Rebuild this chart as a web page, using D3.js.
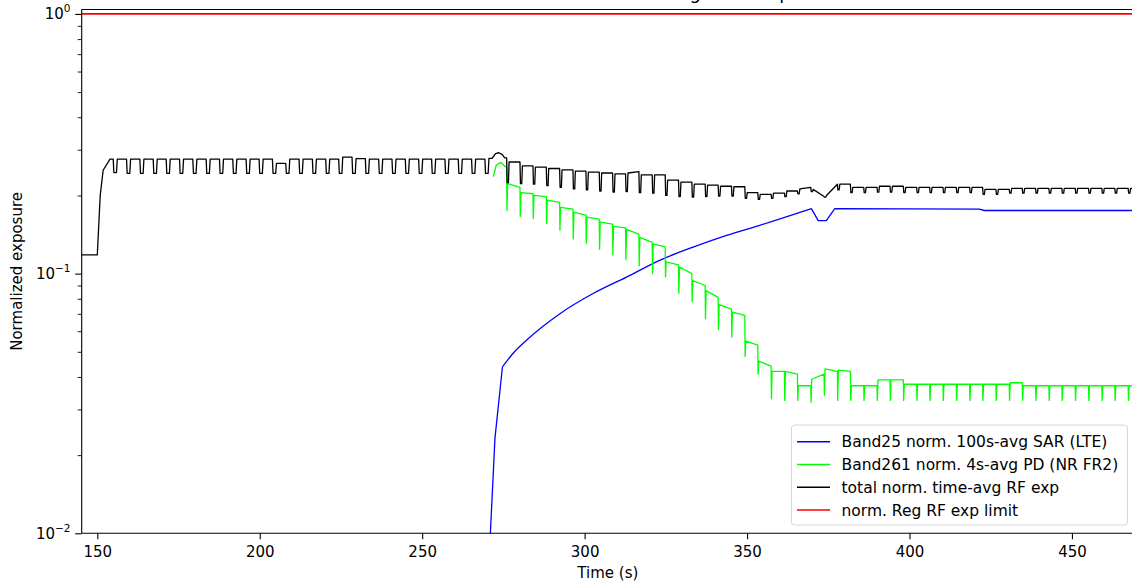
<!DOCTYPE html>
<html><head><meta charset="utf-8">
<script src="https://cdn.jsdelivr.net/npm/d3@7"></script>
<style>
body{margin:0;background:#fff}
svg{display:block}
text{font-family:"DejaVu Sans",sans-serif;fill:#000}
</style>
</head><body>
<svg id="c" width="1132" height="582"></svg>
<script>
// ---------- data ----------
const titleText = "Normalized time-averaged RF exposure";
const xLabel = "Time (s)";
const yLabel = "Normalized exposure";
const xTicks = [150, 200, 250, 300, 350, 400, 450];
const yMajor = [1, 0.1, 0.01];
const yMajorExp = ["0", "\u22121", "\u22122"];
const yMinor = [0.02,0.03,0.04,0.05,0.06,0.07,0.08,0.09,0.2,0.3,0.4,0.5,0.6,0.7,0.8,0.9];
const seriesNames = ["Band25 norm. 100s-avg SAR (LTE)", "Band261 norm. 4s-avg PD (NR FR2)", "total norm. time-avg RF exp", "norm. Reg RF exp limit"];
const seriesColors = ["#0000ff", "#00ff00", "#000000", "#ff0000"];

// regulatory limit
const limitT = [145, 470];
const limitV = [1, 1];

// LTE SAR (blue): steep start, smooth rise, short dip, flat
const blueRampT = [270.9, 272.4, 274.7];
const blueRampV = [0.0095, 0.0232, 0.0437];
const blueRiseT = [274.7, 278.2, 282.1, 292.4, 302.6, 312.9, 323.1, 333.4, 343.7, 353.9, 361.1, 369.8];
const blueRiseV = [0.0437, 0.0497, 0.0554, 0.0701, 0.0838, 0.097, 0.1125, 0.1265, 0.1404, 0.1535, 0.164, 0.178];
const blueTailT = [369.8, 371.9, 374.4, 377.0, 421.5, 423.0, 470];
const blueTailV = [0.178, 0.160, 0.160, 0.178, 0.177, 0.175, 0.175];

// total (black): lead-in, then pulse train A, a peak, then pulse train B
const blackLeadT = [145, 150.0, 150.9, 151.8, 153.9];
const blackLeadV = [0.118, 0.118, 0.20, 0.25, 0.276];
const blackDipTA = [154.9,159.0,163.1,167.2,171.2,175.3,179.4,183.5,187.6,191.7,195.8,199.8,203.9,208.0,212.1,216.2,220.3,224.3,228.4,232.5,236.6,240.7,244.8,248.9,252.9,257.0,261.1,265.2,269.3];
const blackHighA = [0.276,0.276,0.276,0.276,0.276,0.276,0.276,0.276,0.276,0.276,0.276,0.276,0.266,0.276,0.276,0.276,0.276,0.281,0.277,0.276,0.276,0.276,0.276,0.276,0.276,0.276,0.276,0.276,0.278];
const blackLowA = [0.245,0.243,0.243,0.243,0.243,0.243,0.243,0.243,0.243,0.243,0.243,0.243,0.243,0.243,0.243,0.243,0.243,0.243,0.243,0.243,0.243,0.243,0.243,0.243,0.243,0.243,0.243,0.243,0.243];
const blackPeakT = [271.6, 272.6, 273.6, 274.6, 275.4];
const blackPeakV = [0.279, 0.290, 0.292, 0.288, 0.279];

const cycleTB = [276.0,280.1,284.1,288.2,292.3,296.4,300.4,304.5,308.6,312.6,316.7,320.8,324.8,328.9,333.0,337.1,341.1,345.2,349.3,353.3,357.4,361.5,365.5,369.6,373.7,377.8,381.8,385.9,390.0,394.0,398.1,402.2,406.2,410.3,414.4,418.5,422.5,426.6,430.7,434.7,438.8,442.9,446.9,451.0,455.1,459.2,463.2,467.3];
const blackLowB = [0.224,0.222,0.221,0.218,0.215,0.212,0.210,0.208,0.206,0.207,0.205,0.204,0.200,0.198,0.197,0.198,0.199,0.199,0.195,0.193,0.195,0.198,0.203,0.207,0.197,0.210,0.205,0.205,0.206,0.206,0.205,0.205,0.205,0.205,0.205,0.205,0.202,0.202,0.204,0.204,0.204,0.204,0.204,0.204,0.204,0.204,0.204,0.204];
const blackStartB = [0.269,0.260,0.257,0.254,0.251,0.248,0.246,0.244,0.242,0.244,0.240,0.240,0.229,0.225,0.221,0.219,0.217,0.216,0.205,0.202,0.204,0.208,0.212,0.211,0.200,0.221,0.215,0.215,0.217,0.217,0.215,0.215,0.215,0.215,0.215,0.215,0.211,0.211,0.213,0.213,0.213,0.213,0.213,0.213,0.213,0.213,0.213,0.213];
const blackEndB = [0.269,0.260,0.257,0.254,0.251,0.248,0.246,0.244,0.242,0.247,0.240,0.240,0.229,0.225,0.221,0.219,0.217,0.216,0.205,0.202,0.204,0.208,0.215,0.198,0.221,0.221,0.215,0.215,0.217,0.217,0.215,0.215,0.215,0.215,0.215,0.215,0.211,0.211,0.213,0.213,0.213,0.213,0.213,0.213,0.213,0.213,0.213,0.213];

// NR FR2 PD (green)
const greenLeadT = [271.9, 272.8, 274.3, 275.6];
const greenLeadV = [0.236, 0.262, 0.268, 0.258];
const greenLowB = [0.175,0.166,0.163,0.156,0.147,0.136,0.131,0.124,0.118,0.113,0.107,0.100,0.097,0.084,0.078,0.067,0.061,0.057,0.048,0.041,0.033,0.0325,0.0325,0.032,0.034,0.0325,0.0325,0.0325,0.0325,0.0325,0.0325,0.0325,0.0325,0.0325,0.0325,0.0325,0.0325,0.0325,0.0325,0.0325,0.0325,0.0325,0.0325,0.0325,0.0325,0.0325,0.0325,0.0325];
const greenStartB = [0.222,0.205,0.200,0.192,0.180,0.172,0.165,0.158,0.152,0.148,0.138,0.130,0.111,0.106,0.094,0.086,0.076,0.071,0.055,0.046,0.042,0.042,0.037,0.0392,0.043,0.0425,0.037,0.037,0.039,0.039,0.0375,0.0375,0.0375,0.0375,0.0375,0.0375,0.0375,0.0375,0.038,0.037,0.037,0.037,0.037,0.037,0.037,0.037,0.037,0.037];
const greenEndB = [0.215,0.203,0.198,0.188,0.177,0.168,0.162,0.155,0.150,0.142,0.132,0.127,0.108,0.100,0.090,0.081,0.073,0.069,0.053,0.044,0.042,0.041,0.037,0.041,0.042,0.042,0.037,0.037,0.039,0.039,0.0375,0.0375,0.0375,0.0375,0.0375,0.0375,0.0375,0.0375,0.038,0.037,0.037,0.037,0.037,0.037,0.037,0.037,0.037,0.037];

// ---------- layout ----------
const L = 81.7, R = 1134, T = 9.5, B = 533.3;
const svg = d3.select("#c");
const x = d3.scaleLinear().domain([145.2, 469.1]).range([L, R]);
const y = d3.scaleLog().domain([0.01, 1.04]).range([B, T]);

// builds a pulse-train polyline from per-cycle levels
function pulseTrain(times, lows, starts, ends, prevEnd, endT, a, b, c) {
  const pts = [];
  times.forEach((t, i) => {
    pts.push([t, prevEnd]);
    pts.push([t + a, lows[i]]);
    if (b > a) pts.push([t + b, lows[i]]);
    pts.push([t + c, starts[i]]);
    prevEnd = ends[i];
  });
  pts.push([endT, prevEnd]);
  return pts;
}
const zip = (ts, vs) => ts.map((t, i) => [t, vs[i]]);

const blackPts = [].concat(
  zip(blackLeadT, blackLeadV),
  pulseTrain(blackDipTA, blackLowA, blackHighA, blackHighA, blackLeadV[blackLeadV.length-1], blackPeakT[0] - 0.01, 0.2, 1.0, 1.25),
  zip(blackPeakT, blackPeakV),
  pulseTrain(cycleTB, blackLowB, blackStartB, blackEndB, blackPeakV[blackPeakV.length-1], 470, 0.15, 0.55, 0.75)
);
const greenPts = [].concat(
  zip(greenLeadT, greenLeadV),
  pulseTrain(cycleTB, greenLowB, greenStartB, greenEndB, greenLeadV[greenLeadV.length-1], 470, 0.1, 0.1, 0.3)
);

// clip
svg.append("defs").append("clipPath").attr("id", "clip")
  .append("rect").attr("x", L).attr("y", T).attr("width", R - L).attr("height", B - T);

const line = d3.line().x(d => x(d[0])).y(d => y(Math.max(d[1], 0.005)));
const smooth = d3.line().x(d => x(d[0])).y(d => y(d[1])).curve(d3.curveMonotoneX);
const g = svg.append("g").attr("clip-path", "url(#clip)");
const bluePath = line(zip(blueRampT, blueRampV)) + smooth(zip(blueRiseT, blueRiseV)) + line(zip(blueTailT, blueTailV));
const draws = [
  [bluePath, seriesColors[0], 1.3],
  [line(greenPts), seriesColors[1], 1.3],
  [line(blackPts), seriesColors[2], 1.3],
  [line(zip(limitT, limitV)), seriesColors[3], 1.6]
];
draws.forEach(([d, col, w]) => {
  g.append("path").attr("d", d).attr("fill", "none")
    .attr("stroke", col).attr("stroke-width", w).attr("stroke-linejoin", "round");
});

// axes
const xAxis = d3.axisBottom(x).tickValues(xTicks).tickSize(6).tickPadding(4).tickFormat(d3.format("d"));
const gx = svg.append("g").attr("transform", `translate(0,${B})`).call(xAxis);
gx.select(".domain").remove();
gx.selectAll("line").attr("stroke", "#000").attr("stroke-width", 1.1);
gx.selectAll("text").attr("font-size", 15).attr("font-family", "DejaVu Sans").attr("dy", "0.9em");

const gym = svg.append("g").attr("transform", `translate(${L},0)`)
  .call(d3.axisLeft(y).tickValues(yMinor).tickSize(4).tickFormat(""));
gym.select(".domain").remove();
gym.selectAll("line").attr("stroke", "#000").attr("stroke-width", 0.9);

const gy = svg.append("g").attr("transform", `translate(${L},0)`)
  .call(d3.axisLeft(y).tickValues(yMajor).tickSize(6.5).tickFormat(""));
gy.select(".domain").remove();
gy.selectAll("line").attr("stroke", "#000").attr("stroke-width", 1.1);
yMajor.forEach((v, i) => {
  const t = svg.append("text").attr("x", 70.5).attr("y", y(v) + 5.5)
    .attr("text-anchor", "end").attr("font-size", 15);
  t.append("tspan").text("10");
  t.append("tspan").attr("dy", -7).attr("font-size", 10.5).text(yMajorExp[i]);
});

// spines
svg.append("line").attr("x1", L).attr("x2", L).attr("y1", T).attr("y2", B).attr("stroke", "#000").attr("stroke-width", 1.1);
svg.append("line").attr("x1", L).attr("x2", R).attr("y1", B).attr("y2", B).attr("stroke", "#000").attr("stroke-width", 1.1);
svg.append("line").attr("x1", L).attr("x2", R).attr("y1", T).attr("y2", T).attr("stroke", "#000").attr("stroke-width", 1.1);

// labels
svg.append("text").attr("x", (L + R) / 2).attr("y", 578).attr("text-anchor", "middle").attr("font-size", 15).text(xLabel);
svg.append("text").attr("transform", `translate(22,${(T + B) / 2}) rotate(-90)`).attr("text-anchor", "middle").attr("font-size", 15).text(yLabel);
svg.append("text").attr("x", 662).attr("y", -1.5).attr("text-anchor", "middle").attr("font-size", 18).text(titleText);

// legend
const lg = svg.append("g");
lg.append("rect").attr("x", 791.5).attr("y", 425).attr("width", 336).attr("height", 100).attr("rx", 3)
  .attr("fill", "#fff").attr("fill-opacity", 0.8).attr("stroke", "#d6d6d6").attr("stroke-width", 1);
seriesNames.forEach((name, i) => {
  const yy = 441.7 + i * 22.8;
  lg.append("line").attr("x1", 797).attr("x2", 830).attr("y1", yy).attr("y2", yy)
    .attr("stroke", seriesColors[i]).attr("stroke-width", 1.5);
  lg.append("text").attr("x", 841.5).attr("y", yy + 5.5).attr("font-size", 15.5).text(name);
});
</script>
</body></html>
